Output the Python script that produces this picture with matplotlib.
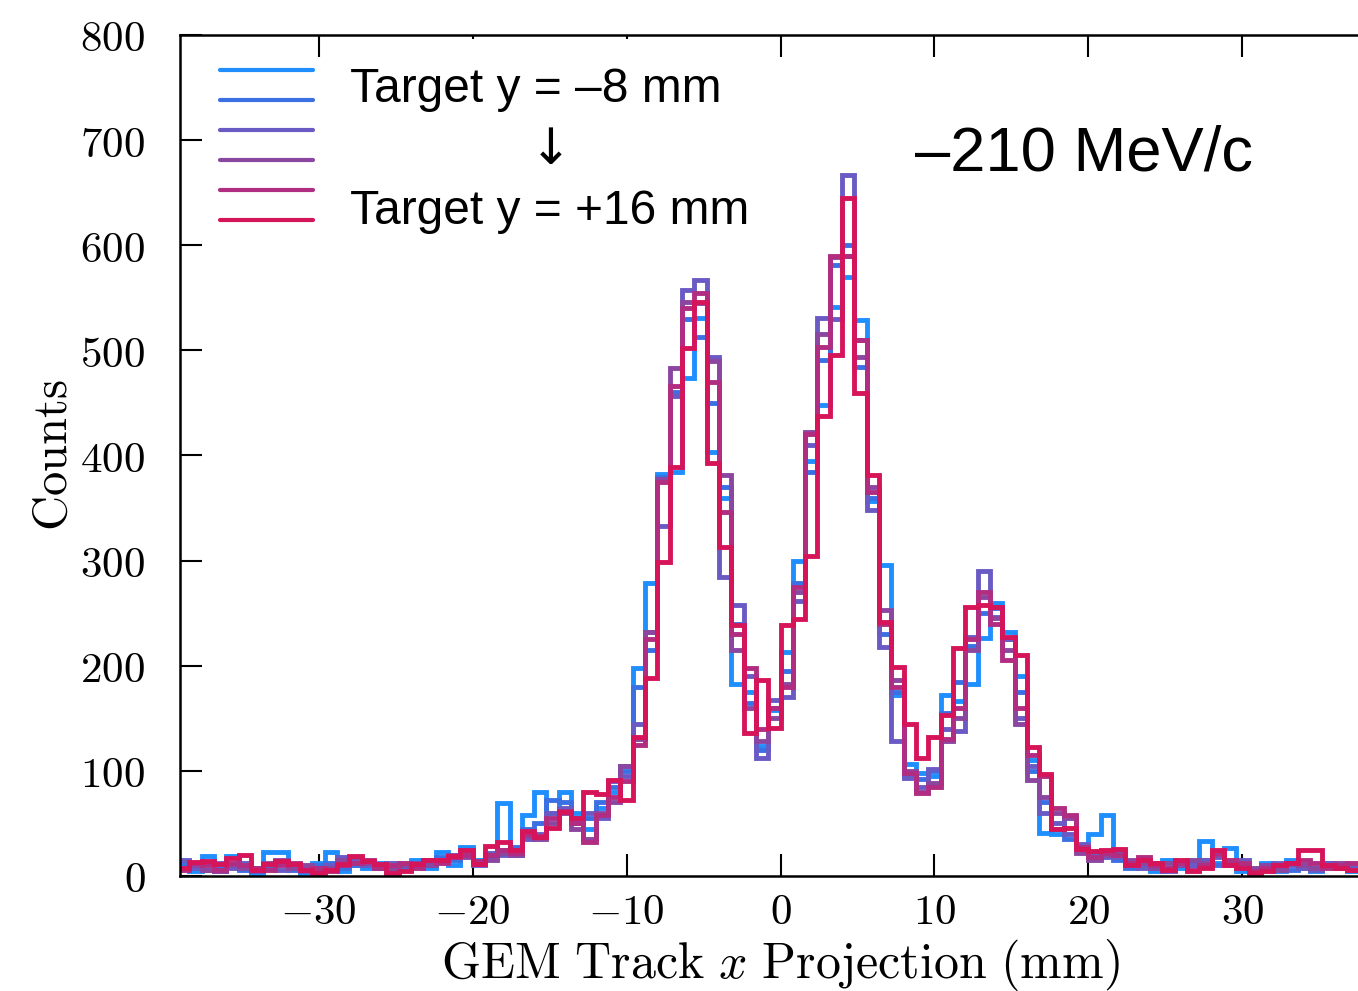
import numpy as np
import matplotlib
matplotlib.use("Agg")
import matplotlib.pyplot as plt
from matplotlib.ticker import FuncFormatter, MultipleLocator
from matplotlib.patches import Rectangle

plt.rcParams['mathtext.fontset'] = 'cm'

# bin edges: 0.8 mm bins from -40 to 40 mm
bin_lo = -40.0
bin_hi = 40.0
n_bins = 100
edges = np.linspace(bin_lo, bin_hi, n_bins + 1)

labels = ["Target y = \u20138 mm", "Target y = +16 mm"]
colors = ["#1f8fff", "#3a70e2", "#6a5ac4", "#8b46a0", "#b02d82", "#d6145a"]

# counts per bin, one list per target y position (-8 mm ... +16 mm)
y_m8 = [8, 12, 5, 19, 5, 19, 10, 3, 23, 23, 8, 3, 12, 23, 5, 10, 8, 12, 3, 8,
        15, 8, 23, 10, 28, 15, 20, 69, 20, 58, 80, 60, 80, 60, 45, 65, 80, 105, 198, 279,
        382, 384, 474, 531, 403, 360, 183, 175, 124, 158, 213, 300, 395, 448, 541, 570, 529, 357, 296, 172,
        107, 98, 95, 172, 166, 183, 226, 260, 232, 190, 110, 41, 40, 56, 25, 40, 58, 22,
        10, 12, 5, 15, 8, 10, 33, 12, 27, 5, 3, 12, 5, 15, 8, 5, 12, 10, 5, 8, 10, 6]
y_m3 = [6, 10, 8, 12, 8, 10, 6, 8, 10, 12, 6, 8, 10, 12, 8, 10, 12, 8, 6, 10,
        12, 15, 18, 15, 20, 12, 18, 25, 28, 45, 50, 72, 70, 55, 55, 70, 85, 100, 180, 215,
        380, 460, 530, 513, 450, 370, 240, 165, 120, 160, 195, 279, 384, 491, 581, 600, 484, 360, 230, 175,
        95, 92, 100, 155, 185, 219, 250, 255, 225, 175, 100, 70, 45, 35, 25, 22, 20, 15,
        8, 10, 12, 8, 10, 12, 15, 10, 12, 8, 6, 10, 8, 6, 10, 8, 12, 10, 8, 6, 8, 6]
y_p2 = [10, 15, 8, 6, 12, 8, 12, 5, 8, 6, 10, 5, 8, 10, 18, 15, 10, 8, 12, 6,
        10, 12, 15, 18, 22, 10, 22, 20, 25, 35, 40, 60, 65, 50, 60, 55, 90, 95, 145, 232,
        333, 457, 557, 567, 494, 284, 258, 190, 112, 167, 170, 262, 410, 531, 530, 667, 510, 348, 218, 128,
        93, 85, 102, 140, 138, 227, 290, 246, 225, 150, 105, 60, 50, 40, 30, 20, 18, 18,
        12, 8, 10, 5, 12, 10, 15, 18, 10, 15, 5, 8, 12, 10, 8, 6, 12, 8, 10, 6, 8, 5]
y_p7 = [5, 8, 10, 6, 5, 10, 8, 6, 12, 15, 8, 10, 6, 8, 15, 18, 12, 10, 8, 10,
        12, 10, 15, 20, 18, 12, 15, 22, 20, 38, 35, 50, 60, 45, 35, 60, 70, 105, 130, 232,
        378, 483, 546, 545, 490, 381, 215, 160, 128, 150, 183, 270, 422, 516, 589, 590, 494, 370, 253, 186,
        100, 80, 88, 128, 150, 215, 265, 245, 215, 145, 91, 75, 60, 55, 22, 15, 20, 25,
        15, 12, 8, 12, 10, 15, 12, 20, 12, 10, 8, 10, 6, 12, 10, 8, 10, 12, 6, 8, 6, 5]
y_p11 = [8, 6, 12, 10, 6, 12, 10, 8, 6, 10, 12, 6, 8, 5, 10, 12, 15, 8, 10, 12,
         8, 15, 12, 18, 20, 14, 20, 25, 22, 40, 38, 55, 62, 50, 32, 58, 75, 90, 125, 225,
         375, 466, 540, 555, 470, 346, 230, 198, 140, 160, 180, 275, 420, 503, 590, 590, 510, 365, 240, 180,
         98, 79, 85, 130, 160, 225, 270, 240, 205, 160, 115, 95, 65, 58, 28, 18, 22, 20,
         12, 18, 10, 8, 12, 6, 10, 22, 15, 12, 5, 8, 10, 12, 15, 12, 8, 10, 12, 8, 5, 6]
y_p16 = [5, 8, 13, 14, 11, 17, 20, 6, 11, 14, 11, 6, 3, 6, 11, 19, 14, 11, 3, 5,
         11, 15, 15, 19, 25, 11, 29, 32, 25, 43, 37, 46, 61, 55, 80, 78, 91, 72, 132, 188,
         299, 389, 502, 546, 393, 313, 239, 136, 186, 141, 239, 244, 304, 438, 496, 645, 459, 381, 242, 199,
         145, 112, 132, 153, 217, 256, 258, 256, 227, 210, 123, 97, 45, 46, 26, 24, 25, 26,
         10, 15, 12, 6, 15, 5, 8, 25, 10, 8, 3, 5, 10, 12, 25, 25, 10, 8, 6, 5, 8, 5]
series = [y_m8, y_m3, y_p2, y_p7, y_p11, y_p16]

fig = plt.figure(figsize=(13.58, 9.91), dpi=100)
# axes run past the right edge of the image (the original is cropped there)
ax = fig.add_axes([180 / 1358, 115 / 991, 1201 / 1358, 841 / 991])

for vals, c in zip(series, colors):
    ax.stairs(vals, edges, color=c, linewidth=3.5, baseline=0, zorder=2)

ax.set_xlim(-39, 39)
ax.set_ylim(0, 800)
ax.xaxis.set_major_locator(MultipleLocator(10))
ax.yaxis.set_major_locator(MultipleLocator(100))
fmt = FuncFormatter(lambda v, p: r"$%d$" % int(round(v)))
ax.xaxis.set_major_formatter(fmt)
ax.yaxis.set_major_formatter(fmt)
ax.tick_params(direction='in', top=True, right=True, length=16, width=1.5,
               labelsize=31, color='black')
ax.tick_params(axis='x', pad=11)
ax.tick_params(axis='y', pad=25)
for s in ax.spines.values():
    s.set_linewidth(1.8)

ax.set_xlabel(r"$\mathrm{GEM\ Track\ }x\mathrm{\ Projection\ (mm)}$", fontsize=36, labelpad=3)
ax.set_ylabel(r"$\mathrm{Counts}$", fontsize=35, labelpad=3)

# legend: six coloured lines with two labels and an arrow between them
ax.add_patch(Rectangle((0.125, 0.76), 0.36, 0.235, transform=ax.transAxes,
                       facecolor='white', edgecolor='none', zorder=3))
x0, x1 = 40 / 1201, 133 / 1201
for i, c in enumerate(colors):
    yy = (806 - 30 * i) / 841
    ax.plot([x0, x1], [yy, yy], transform=ax.transAxes, color=c, linewidth=3,
            solid_capstyle='round', zorder=4)
sans = ['Liberation Sans', 'DejaVu Sans']
ax.text(170 / 1201, 786 / 841, labels[0], transform=ax.transAxes, fontsize=34.5,
        family=sans, va='center', ha='left', zorder=5)
ax.text(371 / 1201, 726 / 841, "\u2193", transform=ax.transAxes, fontsize=36,
        family=['DejaVu Sans'], va='center', ha='center', zorder=5)
ax.text(170 / 1201, 664 / 841, labels[1], transform=ax.transAxes, fontsize=34.5,
        family=sans, va='center', ha='left', zorder=5)
ax.text(735 / 1201, 722 / 841, "\u2013210 MeV/c", transform=ax.transAxes, fontsize=45.5,
        family=sans, va='center', ha='left', zorder=5)

fig.savefig("out.png", dpi=100)
